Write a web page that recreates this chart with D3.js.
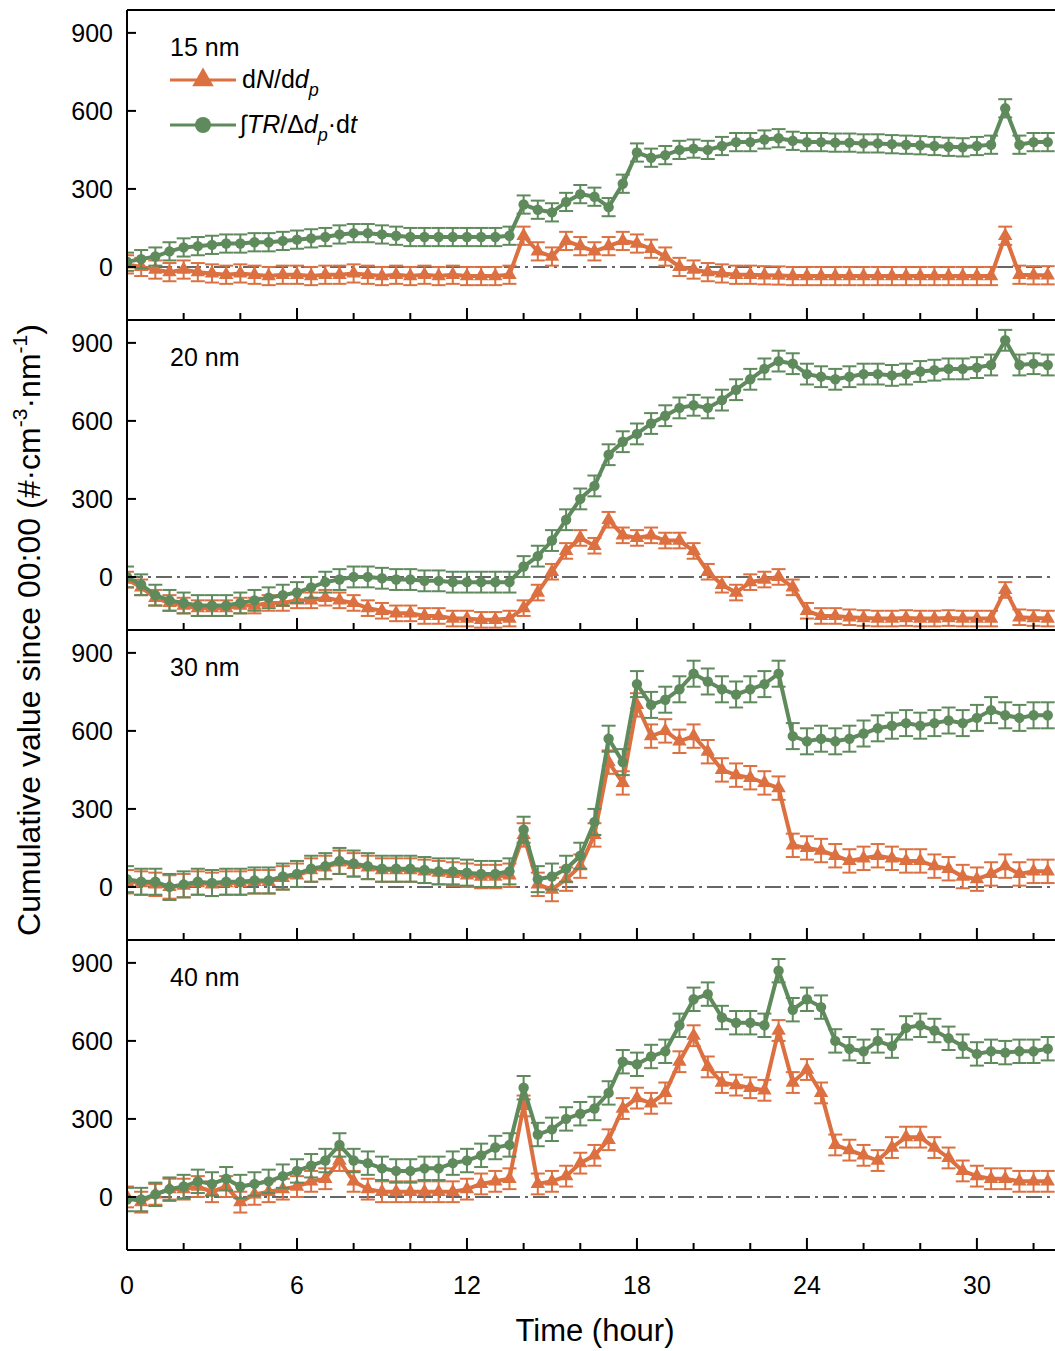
<!DOCTYPE html>
<html><head><meta charset="utf-8">
<script src="https://cdn.jsdelivr.net/npm/d3@7"></script>
<style>body{margin:0;background:#fff}svg{display:block;font-family:Arial,"Liberation Sans",sans-serif}</style>
</head><body><svg id="c" width="1055" height="1351"></svg>
<script>
const times = d3.range(0, 33, 0.5); // sample times (hours)
const panelLabels = ["15 nm","20 nm","30 nm","40 nm"];
const yTicks = [0,300,600,900];
const xTicks = [0,6,12,18,24,30];
const dN15 = [10,0,-10,-20,-10,-20,-25,-30,-25,-30,-35,-30,-30,-35,-30,-30,-25,-30,-35,-30,-35,-30,-35,-30,-35,-35,-35,-30,120,60,40,100,80,60,80,100,90,70,40,0,-10,-20,-25,-30,-30,-32,-33,-35,-35,-35,-35,-35,-35,-35,-35,-35,-35,-35,-35,-35,-35,-35,120,-30,-32,-32];
const TR15 = [20,30,40,60,75,80,85,90,90,95,95,100,105,110,115,125,130,130,125,120,115,115,115,115,115,115,115,120,240,220,210,250,280,270,230,320,440,420,430,450,455,450,465,480,480,490,495,485,480,480,478,478,475,475,472,470,468,465,462,460,465,470,610,470,480,480];
const dN20 = [-10,-40,-80,-100,-110,-120,-120,-120,-110,-110,-100,-100,-90,-90,-80,-90,-100,-120,-130,-140,-140,-150,-150,-160,-160,-165,-165,-160,-120,-60,20,100,150,120,220,160,150,160,140,140,100,20,-30,-60,-20,-10,0,-40,-130,-150,-150,-155,-158,-160,-160,-158,-160,-160,-158,-160,-160,-160,-50,-155,-158,-160];
const TR20 = [0,-30,-70,-90,-100,-110,-110,-110,-100,-90,-80,-70,-60,-40,-20,-10,0,0,-5,-10,-10,-15,-15,-20,-20,-20,-20,-20,40,80,140,220,300,350,470,520,550,590,620,650,660,650,680,720,760,800,830,820,780,770,760,770,780,780,775,780,790,795,800,800,805,815,910,815,820,815];
const dN30 = [20,15,10,0,5,15,10,15,15,20,20,35,45,65,75,95,85,75,65,65,65,60,55,50,45,40,40,45,200,10,-10,30,80,200,480,400,700,580,600,560,580,520,450,430,420,400,380,160,150,140,120,100,110,120,110,100,100,80,70,40,30,50,80,50,60,60];
const TR30 = [30,20,20,0,10,20,15,20,20,25,25,40,50,70,80,100,90,80,70,70,70,65,60,60,55,50,50,60,220,30,40,70,120,250,570,480,780,700,720,760,820,790,760,740,760,780,820,580,560,570,560,570,590,610,620,630,620,630,640,630,650,680,660,650,660,660];
const dN40 = [0,-20,10,30,30,40,20,40,-20,10,20,30,40,60,70,140,60,30,20,20,20,20,20,20,30,50,60,70,350,50,60,80,130,160,220,340,380,360,400,520,620,500,440,430,420,410,640,440,490,400,200,180,160,140,190,230,230,190,150,100,80,70,70,60,60,60];
const TR40 = [-10,-10,10,30,40,60,50,70,40,50,60,80,100,120,140,200,140,130,110,100,100,110,110,130,140,160,190,200,420,240,260,300,320,340,400,520,510,540,560,660,760,780,690,670,670,660,870,720,760,730,600,570,560,600,580,650,660,640,610,580,550,560,555,560,560,570];
const dNSeries = [dN15,dN20,dN30,dN40];
const TRSeries = [TR15,TR20,TR30,TR40];
const dNErr = [35,30,45,40];
const TRErr = [35,40,50,45];

const svg = d3.select("#c");
const orange = "#dc7040", green = "#5e8a5c";
const L = 127, pTop = [10,320,630,940], pH = 310;
const x = d3.scaleLinear().domain([0,34]).range([L, L+34*28.33]);
svg.append("defs").append("clipPath").attr("id","cp").append("rect").attr("x",L).attr("y",0).attr("width",1055-L).attr("height",pH);

pTop.forEach((top,i)=>{
  const y = d3.scaleLinear().domain([-204, 988]).range([top+pH, top]);
  const g = svg.append("g");
  g.append("line").attr("x1",L).attr("x2",1055).attr("y1",y(0)).attr("y2",y(0))
    .attr("stroke","#666").attr("stroke-width",2).attr("stroke-dasharray","16,5,3,5");
  const pg = g.append("g").attr("transform",`translate(0,${top})`).attr("clip-path","url(#cp)")
    .append("g").attr("transform",`translate(0,${-top})`);
  const draw = (vals, err, col, shape)=>{
    const pts = vals.map((v,k)=>[times[k], v]);
    pts.forEach(([t,v])=>{
      pg.append("line").attr("x1",x(t)).attr("x2",x(t)).attr("y1",y(v-err)).attr("y2",y(v+err)).attr("stroke",col).attr("stroke-width",2);
      [v-err,v+err].forEach(e=>pg.append("line").attr("x1",x(t)-7).attr("x2",x(t)+7).attr("y1",y(e)).attr("y2",y(e)).attr("stroke",col).attr("stroke-width",2));
    });
    pg.append("path").datum(pts).attr("d",d3.line().x(d=>x(d[0])).y(d=>y(d[1])))
      .attr("fill","none").attr("stroke",col).attr("stroke-width",4);
    pts.forEach(([t,v])=>{
      pg.append("path").attr("d",d3.symbol().type(shape).size(shape===d3.symbolTriangle?90:85)())
        .attr("transform",`translate(${x(t)},${y(v)})`).attr("fill",col);
    });
  };
  draw(dNSeries[i], dNErr[i], orange, d3.symbolTriangle);
  draw(TRSeries[i], TRErr[i], green, d3.symbolCircle);
  g.append("line").attr("x1",L).attr("x2",1055).attr("y1",top).attr("y2",top).attr("stroke","#000").attr("stroke-width",2);
  g.append("line").attr("x1",L).attr("x2",L).attr("y1",top).attr("y2",top+pH).attr("stroke","#000").attr("stroke-width",2);
  yTicks.forEach(v=>{
    g.append("line").attr("x1",L).attr("x2",L+9).attr("y1",y(v)).attr("y2",y(v)).attr("stroke","#000").attr("stroke-width",2);
    g.append("text").attr("x",L-14).attr("y",y(v)+9).attr("text-anchor","end").attr("font-size",25).text(v);
  });
  d3.range(2,34,2).forEach(t=>{
    const len = t%6===0?12:7;
    g.append("line").attr("x1",x(t)).attr("x2",x(t)).attr("y1",top+pH).attr("y2",top+pH-len).attr("stroke","#000").attr("stroke-width",2);
  });
  g.append("text").attr("x",170).attr("y",top+46).attr("font-size",25).text(panelLabels[i]);
});
svg.append("line").attr("x1",L).attr("x2",1055).attr("y1",1250).attr("y2",1250).attr("stroke","#000").attr("stroke-width",2);
xTicks.forEach(t=>svg.append("text").attr("x",x(t)).attr("y",1294).attr("text-anchor","middle").attr("font-size",25).text(t));
svg.append("text").attr("x",595).attr("y",1341).attr("text-anchor","middle").attr("font-size",31).text("Time (hour)");
const yl = svg.append("text").attr("transform","translate(40,630) rotate(-90)").attr("text-anchor","middle").attr("font-size",32);
yl.append("tspan").text("Cumulative value since 00:00 (#·cm");
yl.append("tspan").attr("font-size",21).attr("dy",-13).text("-3");
yl.append("tspan").attr("dy",13).text("·nm");
yl.append("tspan").attr("font-size",21).attr("dy",-13).text("-1");
yl.append("tspan").attr("dy",13).text(")");
const leg = [[orange,d3.symbolTriangle,80],[green,d3.symbolCircle,125]];
leg.forEach(([c,s,yy])=>{
  svg.append("line").attr("x1",170).attr("x2",236).attr("y1",yy).attr("y2",yy).attr("stroke",c).attr("stroke-width",3);
  svg.append("path").attr("d",d3.symbol().type(s).size(200)()).attr("transform",`translate(203,${yy})`).attr("fill",c);
});
const t1 = svg.append("text").attr("x",242).attr("y",88).attr("font-size",25);
t1.append("tspan").text("d"); t1.append("tspan").attr("font-style","italic").text("N");
t1.append("tspan").text("/d"); t1.append("tspan").attr("font-style","italic").text("d");
t1.append("tspan").attr("font-style","italic").attr("font-size",18).attr("dy",8).text("p");
const t2 = svg.append("text").attr("x",240).attr("y",133).attr("font-size",25);
t2.append("tspan").text("∫"); t2.append("tspan").attr("font-style","italic").text("TR");
t2.append("tspan").text("/Δ"); t2.append("tspan").attr("font-style","italic").text("d");
t2.append("tspan").attr("font-style","italic").attr("font-size",18).attr("dy",8).text("p");
t2.append("tspan").attr("dy",-8).text("·d"); t2.append("tspan").attr("font-style","italic").text("t");
</script></body></html>
